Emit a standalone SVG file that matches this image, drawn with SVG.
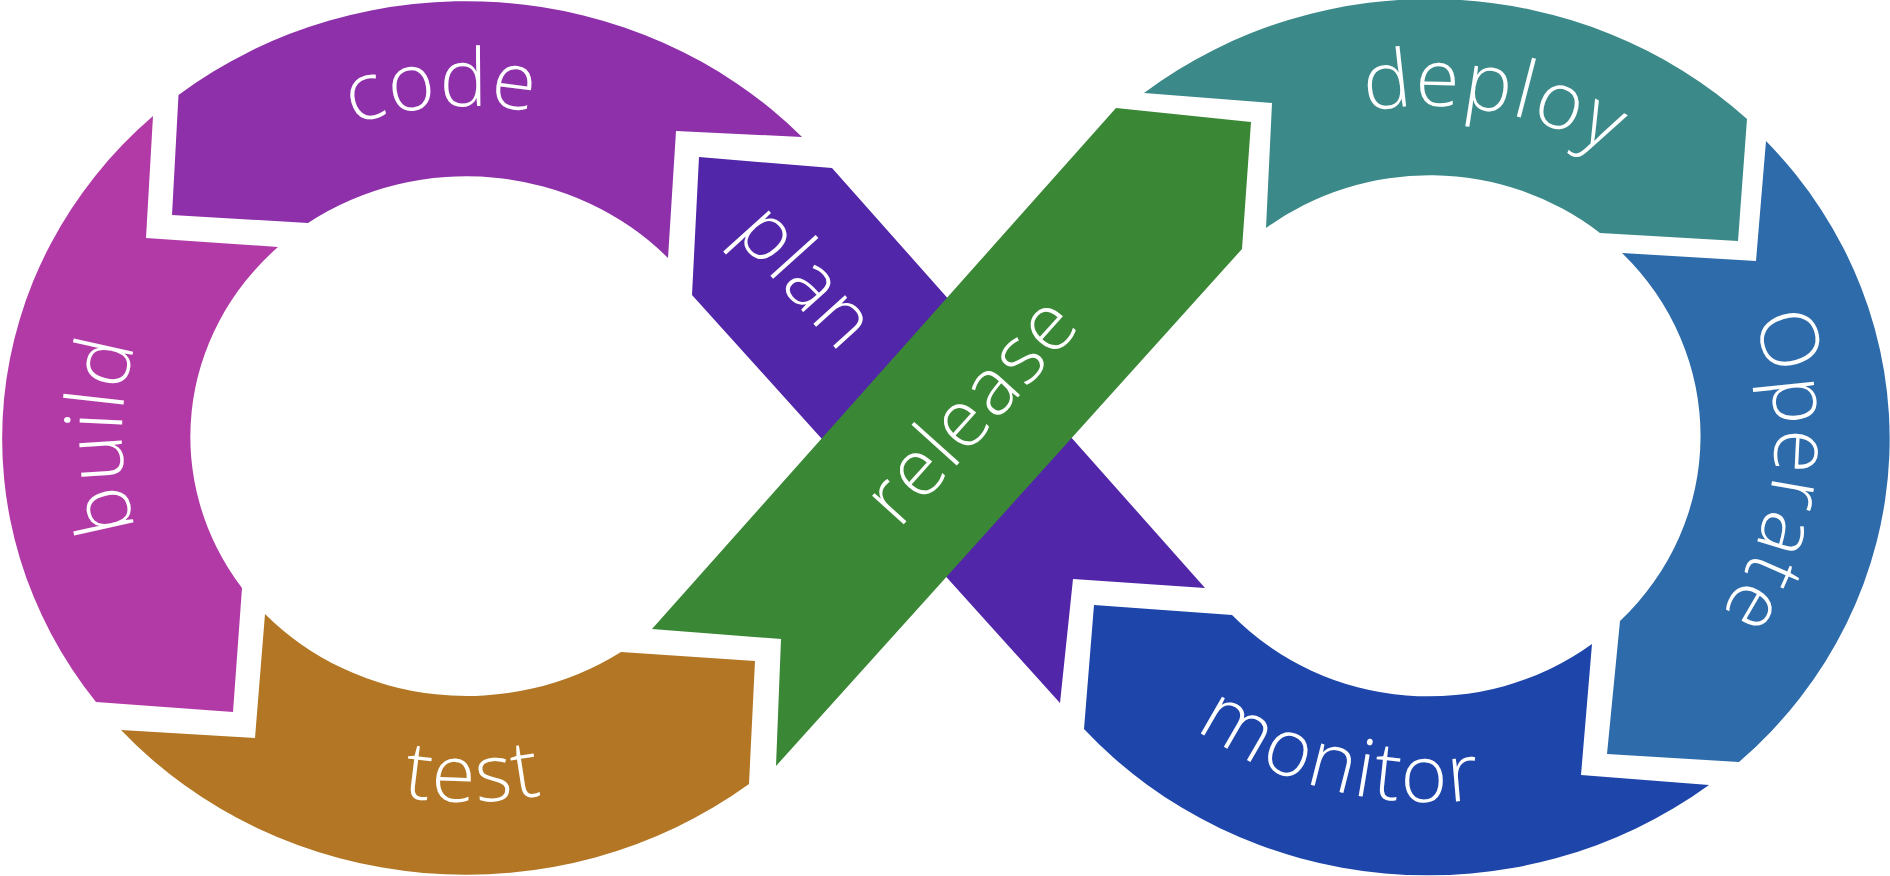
<svg xmlns="http://www.w3.org/2000/svg" width="1890" height="876" viewBox="0 0 1890 876">
<style>
.lbl{font-family:"Open Sans","Lato","Liberation Sans",sans-serif;font-weight:340;font-size:80px;fill:#ffffff;letter-spacing:2px}
</style>
<defs>
<path id="lo" d="M467,766 A345,330 0 0 1 467,106 A345,330 0 0 1 467,766"/>
<path id="ro" d="M1430,766 A345,330 0 0 1 1430,106 A345,330 0 0 1 1430,766"/>
<path id="li" d="M77,436 A390,366 0 0 0 857,436"/>
<path id="ri" d="M1040,436 A390,366 0 0 0 1820,436"/>
</defs>
<rect width="1890" height="876" fill="#ffffff"/>
<g id="code">
<path fill="#8E30A9" d="M178.5,95 L172,215 L308,223 A277,260 0 0 1 668,258 L676,131 L802,137 A464,437 0 0 0 178.5,95 Z"/>
<text class="lbl"><textPath href="#lo" startOffset="1036" text-anchor="middle">code</textPath></text>
</g>
<g id="build">
<path fill="#B23AA6" d="M153,116 L146,238 L278,247 A277,260 0 0 0 242,588 L233,712 L96,702 A464,437 0 0 1 153,116 Z"/>
<text class="lbl"><textPath href="#lo" startOffset="530" text-anchor="middle">build</textPath></text>
</g>
<g id="test">
<path fill="#B27624" d="M265,614 L255,738 L121,730 A464,437 0 0 0 749,784 L755,661 L621,652 A277,260 0 0 1 265,614 Z"/>
<text class="lbl"><textPath href="#li" startOffset="600" text-anchor="middle">test</textPath></text>
</g>
<g id="deploy">
<path fill="#3B8A89" d="M1144,93 L1272,103 L1266,228 A271,260 0 0 1 1600,233 L1738,241 L1747,119 A461,437 0 0 0 1144,93 Z"/>
<text class="lbl"><textPath href="#ro" startOffset="1122" text-anchor="middle">deploy</textPath></text>
</g>
<g id="operate">
<path fill="#2E6BAA" d="M1766,141 L1756,261 L1622,253 A271,260 0 0 1 1620,621 L1607,754 L1739,762 A461,437 0 0 0 1766,141 Z"/>
<text class="lbl"><textPath href="#ro" startOffset="1625" text-anchor="middle">Operate</textPath></text>
</g>
<g id="monitor">
<path fill="#1E45AA" d="M1094,605 L1232,615 A271,260 0 0 0 1592,644 L1581,775 L1709,785 A461,437 0 0 1 1084,729 Z"/>
<text class="lbl"><textPath href="#ri" startOffset="495" text-anchor="middle">monitor</textPath></text>
</g>
<g id="plan">
<path fill="#5226A8" d="M699,157 L832,168 L1205,588 L1073,579 L1060,703 L692,295 Z"/>
<text class="lbl" transform="translate(802,281) rotate(48)" x="0" y="20" text-anchor="middle">plan</text>
</g>
<g id="release">
<path fill="#3A8836" d="M652,629 L781,639 L776,766 L1242,249 L1251,122 L1116,108 Z"/>
<text class="lbl" transform="translate(976,414) rotate(-48)" x="0" y="20" text-anchor="middle">release</text>
</g>
<g id="connectors"/>
</svg>
